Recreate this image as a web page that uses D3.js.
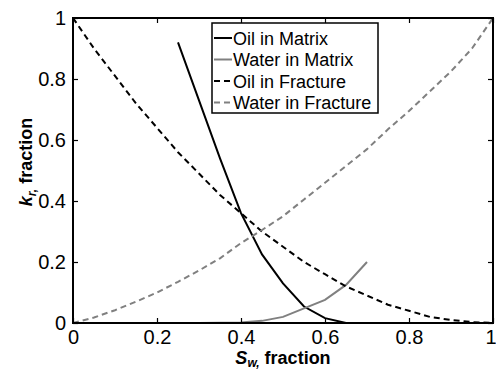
<!DOCTYPE html>
<html>
<head>
<meta charset="utf-8">
<script src="https://cdn.jsdelivr.net/npm/d3@7"></script>
<style>
  html, body { margin: 0; padding: 0; background: #fff; }
  svg { display: block; font-family: "Liberation Sans", Arial, Helvetica, sans-serif; }
</style>
</head>
<body>
<svg id="chart" width="496" height="371"></svg>
<script>
// Relative permeability curves for matrix and fracture systems
const swFracture = [0, 0.05, 0.1, 0.15, 0.2, 0.25, 0.3, 0.35, 0.4, 0.45, 0.5,
                    0.55, 0.6, 0.65, 0.7, 0.75, 0.8, 0.85, 0.9, 0.95, 1];
const oilFracture = [1, 0.90, 0.81, 0.72, 0.64, 0.56, 0.49, 0.42, 0.36, 0.30, 0.25,
                     0.20, 0.16, 0.12, 0.09, 0.06, 0.04, 0.02, 0.01, 0.003, 0];
const waterFracture = [0, 0.018, 0.042, 0.07, 0.10, 0.135, 0.172, 0.212, 0.262, 0.305, 0.35,
                       0.405, 0.46, 0.515, 0.57, 0.635, 0.695, 0.76, 0.825, 0.9, 1];
const swMatrix = [0.25, 0.3, 0.35, 0.4, 0.45, 0.5, 0.55, 0.6, 0.65, 0.7];
const oilMatrix = [0.92, 0.73, 0.54, 0.36, 0.225, 0.13, 0.054, 0.016, 0, 0];
const waterMatrix = [0, 0, 0.001, 0.002, 0.007, 0.02, 0.048, 0.076, 0.125, 0.2];
const xTicks = [0, 0.2, 0.4, 0.6, 0.8, 1];
const yTicks = [0, 0.2, 0.4, 0.6, 0.8, 1];
const xTickLabels = ["0", "0.2", "0.4", "0.6", "0.8", "1"];
const yTickLabels = ["0", "0.2", "0.4", "0.6", "0.8", "1"];
const seriesNames = ["Oil in Matrix", "Water in Matrix", "Oil in Fracture", "Water in Fracture"];

const svg = d3.select("#chart");
const L = 73, R = 493, T = 18, B = 323;
const x = d3.scaleLinear().domain([0, 1]).range([L, R]);
const y = d3.scaleLinear().domain([0, 1]).range([B, T]);

const series = [
  { name: seriesNames[0], xs: swMatrix, ys: oilMatrix, color: "#000", dash: null },
  { name: seriesNames[1], xs: swMatrix, ys: waterMatrix, color: "#808080", dash: null },
  { name: seriesNames[2], xs: swFracture, ys: oilFracture, color: "#000", dash: "6,4" },
  { name: seriesNames[3], xs: swFracture, ys: waterFracture, color: "#808080", dash: "6,4" }
];

const line = d3.line().x(d => x(d[0])).y(d => y(d[1]));
const plot = svg.append("g");
series.forEach(s => {
  plot.append("path")
    .datum(s.xs.map((v, i) => [v, s.ys[i]]))
    .attr("d", line)
    .attr("fill", "none")
    .attr("stroke", s.color)
    .attr("stroke-width", 2)
    .attr("stroke-dasharray", s.dash);
});

// Axes with inward ticks on all four sides
const fs = 20;
const xAxis = d3.axisBottom(x).tickValues(xTicks).tickSize(-5).tickPadding(7)
  .tickFormat((d, i) => xTickLabels[i]);
const yAxis = d3.axisLeft(y).tickValues(yTicks).tickSize(-5).tickPadding(7)
  .tickFormat((d, i) => yTickLabels[i]);
const gx = svg.append("g").attr("transform", `translate(0,${B})`).call(xAxis);
const gy = svg.append("g").attr("transform", `translate(${L},0)`).call(yAxis);
svg.append("g").attr("transform", `translate(0,${T})`)
  .call(d3.axisTop(x).tickValues(xTicks).tickSize(-5).tickFormat(""));
svg.append("g").attr("transform", `translate(${R},0)`)
  .call(d3.axisRight(y).tickValues(yTicks).tickSize(-5).tickFormat(""));
svg.selectAll(".domain").remove();
svg.selectAll(".tick line").attr("stroke", "#000").attr("stroke-width", 1.2);
svg.selectAll(".tick text").attr("font-size", fs).attr("fill", "#000")
  .attr("font-family", "Liberation Sans, Arial, sans-serif");
gx.selectAll(".tick text").attr("dy", "0.71em");
// keep the last x label inside the canvas
gx.selectAll(".tick text").filter(d => d === 1).attr("text-anchor", "end").attr("dx", 3);

svg.append("rect")
  .attr("x", L).attr("y", T).attr("width", R - L).attr("height", B - T)
  .attr("fill", "none").attr("stroke", "#000").attr("stroke-width", 2);

// Axis titles
const xl = svg.append("text").attr("x", 283).attr("y", 364)
  .attr("text-anchor", "middle").attr("font-size", 18).attr("font-weight", "bold");
xl.append("tspan").attr("font-style", "italic").text("S");
xl.append("tspan").attr("font-style", "italic").attr("font-size", 12).attr("dy", 3).text("w,");
xl.append("tspan").attr("dy", -3).text(" fraction");

const yl = svg.append("text").attr("transform", "translate(32,162) rotate(-90)")
  .attr("text-anchor", "middle").attr("font-size", 18).attr("font-weight", "bold");
yl.append("tspan").attr("font-style", "italic").text("k");
yl.append("tspan").attr("font-style", "italic").attr("font-size", 12).attr("dy", 4).text("r,");
yl.append("tspan").attr("dy", -4).text(" fraction");

// Legend
const lg = svg.append("g");
lg.append("rect").attr("x", 212).attr("y", 23).attr("width", 166).attr("height", 90)
  .attr("fill", "#fff").attr("stroke", "#000").attr("stroke-width", 1.5);
series.forEach((s, i) => {
  const cy = 38 + i * 21.5;
  lg.append("line").attr("x1", 214).attr("x2", 232).attr("y1", cy).attr("y2", cy)
    .attr("stroke", s.color).attr("stroke-width", 2)
    .attr("stroke-dasharray", s.dash ? "6,4" : null);
  lg.append("text").attr("x", 233).attr("y", cy + 6.5).attr("font-size", 18)
    .attr("fill", "#000").text(s.name);
});
</script>
</body>
</html>
